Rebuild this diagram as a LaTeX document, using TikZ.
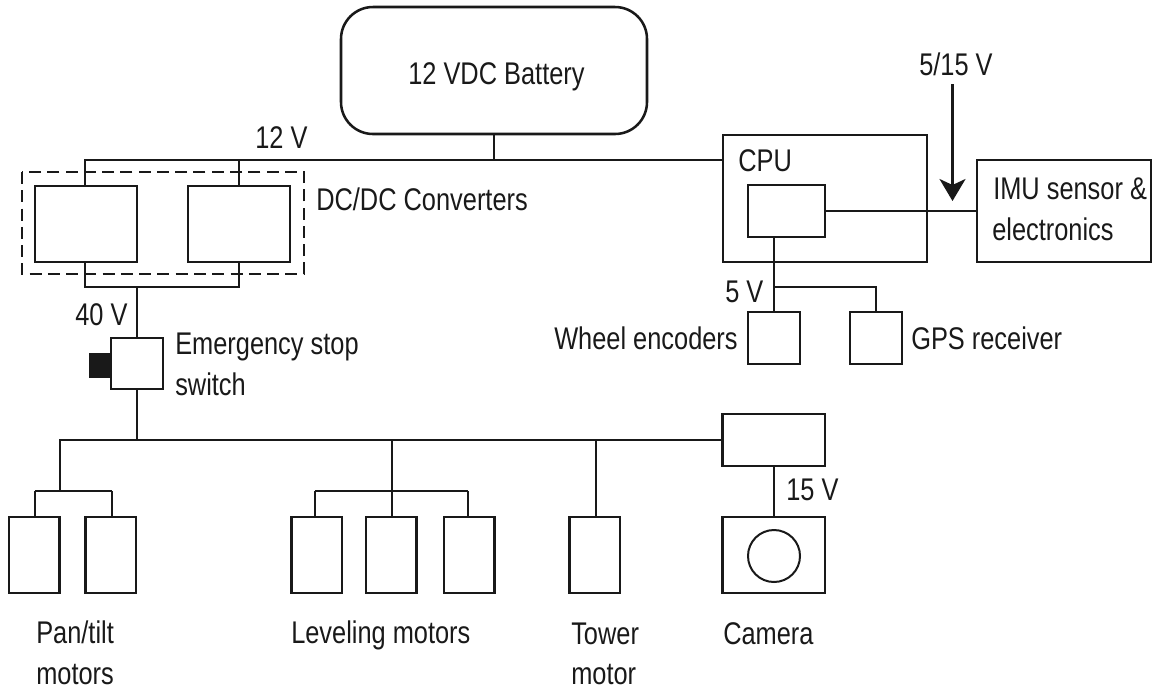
\documentclass[tikz,border=0pt]{standalone}
\usepackage{fontspec}
\setmainfont[FakeStretch=0.81]{Liberation Sans}
\usetikzlibrary{arrows.meta}
\begin{document}
\begin{tikzpicture}[x=0.75pt,y=-0.75pt,
  box/.style={draw=black!90,line width=1.9pt,fill=white,inner sep=0pt,outer sep=0pt,anchor=north west},
  thinbox/.style={box,line width=1.6pt},
  wire/.style={draw=black!90,line width=1.5pt},
  lab/.style={inner sep=0pt,anchor=base west,text=black!90,font=\fontsize{23.5}{26}\selectfont,align=left}]
\useasboundingbox (0,0) rectangle (1152,687);
% coordinates
\coordinate (busL) at (85,160);
\coordinate (busM) at (239,160);
\coordinate (busB) at (494,160);
\coordinate (lowL) at (85,287);
\coordinate (lowM) at (137,287);
\coordinate (lowR) at (239,287);
\coordinate (mainL) at (60,440);
\coordinate (mainS) at (137,440);
\coordinate (mainLev) at (391.5,440);
\coordinate (mainT) at (595.5,440);
\coordinate (panB) at (60,491);
\coordinate (panL) at (35,491);
\coordinate (panR) at (111.5,491);
\coordinate (levB) at (391.5,491);
\coordinate (levL) at (315,491);
\coordinate (levR) at (468,491);
\coordinate (cpuLine) at (723,160);
\coordinate (branch) at (774,287);
\coordinate (branchR) at (876,287);
\coordinate (arrowTop) at (952.5,84);
\coordinate (arrowTip) at (952.5,201);
% wires
\draw[wire] (lowL) -- (busL) -- (cpuLine);
\draw[wire] (busM) -- (239,190);
\draw[wire] (busL) -- (85,190);
\draw[wire] (busB) -- (494,132);
\draw[wire] (85,262) -- (lowL) -- (lowR) -- (239,262);
\draw[wire] (lowM) -- (137,338);
\draw[wire] (137,389) -- (mainS);
\draw[wire] (panB) -- (mainL) -- (722,440);
\draw[wire] (panL) -- (panR);
\draw[wire] (panL) -- (35,517);
\draw[wire] (panR) -- (111.5,517);
\draw[wire] (mainLev) -- (levB);
\draw[wire] (levL) -- (levR);
\draw[wire] (levL) -- (315,517);
\draw[wire] (levB) -- (391.5,517);
\draw[wire] (levR) -- (468,517);
\draw[wire] (mainT) -- (595.5,517);
\draw[wire] (774,466) -- (774,517);
% boxes
\node[box,minimum width=306*0.75pt,minimum height=127*0.75pt,rounded corners=24pt] (bat) at (341,7) {};
\draw[wire,dash pattern=on 9pt off 4.7pt] (22,172) rectangle (304,274);
\node[box,minimum width=102*0.75pt,minimum height=76*0.75pt] (c1) at (35,186) {};
\node[box,minimum width=102*0.75pt,minimum height=76*0.75pt] (c2) at (188,186) {};
\node[thinbox,minimum width=52*0.75pt,minimum height=51*0.75pt] (sw) at (111,338) {};
\fill[black!90] (89,353) rectangle (111,378);
\node[thinbox,minimum width=102.5*0.75pt,minimum height=52*0.75pt] (camc) at (722.5,414) {};
\foreach \n/\x in {p1/9,p2/85.5,l1/291.5,l2/366,l3/444,tow/569.5}
  \node[thinbox,minimum width=50.5*0.75pt,minimum height=76*0.75pt] (\n) at (\x,517) {};
\node[thinbox,minimum width=102.5*0.75pt,minimum height=76*0.75pt] (cam) at (722.5,517) {};
\draw[wire] (774,556) circle[radius=26];
\node[box,minimum width=204*0.75pt,minimum height=127*0.75pt] (cpu) at (723,135) {};
\node[thinbox,minimum width=77*0.75pt,minimum height=52*0.75pt] (cin) at (748,185) {};
\node[thinbox,minimum width=174*0.75pt,minimum height=102*0.75pt] (imu) at (977,160) {};
\node[thinbox,minimum width=52*0.75pt,minimum height=52*0.75pt] (we) at (748,312) {};
\node[thinbox,minimum width=52*0.75pt,minimum height=52*0.75pt] (gps) at (850,312) {};
% wires over boxes
\draw[wire] (cin.east) -- (imu.west);
\draw[wire] (774,237) -- (774,312);
\draw[wire] (branch) -- (branchR) -- (876,312);
\draw[draw=black!90,line width=1.9pt,-{Stealth[length=22pt*0.75,width=26pt*0.75,inset=6pt*0.75]}] (arrowTop) -- (arrowTip);
% labels
\node[lab] at (408,84) {12 VDC Battery};
\node[lab] at (255,148) {12 V};
\node[lab] at (316,210) {DC/DC Converters};
\node[lab] at (75,325) {40 V};
\node[lab] at (175,354) {Emergency stop};
\node[lab] at (175,395) {switch};
\node[lab] at (738,171) {CPU};
\node[lab] at (919,75) {5/15 V};
\node[lab] at (993,199) {IMU sensor \&};
\node[lab] at (992,240) {electronics};
\node[lab] at (725,302) {5 V};
\node[lab] at (554,349) {Wheel encoders};
\node[lab] at (911,349) {GPS receiver};
\node[lab] at (786,500) {15 V};
\node[lab] at (36,643) {Pan/tilt};
\node[lab] at (36,684) {motors};
\node[lab] at (291,643) {Leveling motors};
\node[lab] at (571,644) {Tower};
\node[lab] at (571,684) {motor};
\node[lab] at (723,644) {Camera};
\end{tikzpicture}
\end{document}
